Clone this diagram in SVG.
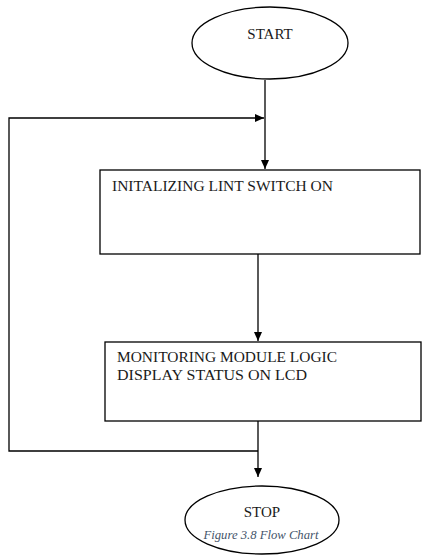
<svg xmlns="http://www.w3.org/2000/svg" width="423" height="555" viewBox="0 0 423 555">
<defs>
<marker id="arr" markerWidth="10" markerHeight="10" refX="9" refY="5" orient="auto" markerUnits="userSpaceOnUse">
<path d="M0,1 L9,5 L0,9 Z" fill="#000"/>
</marker>
<style>
.shape{fill:#fff;stroke:#000;stroke-width:1.3}
.conn{fill:none;stroke:#000;stroke-width:1.3}
.t{font-size:15px;fill:#1a1a1a}
.cap{font-size:12.5px;font-style:italic;fill:#44546A}
</style>
</defs>
<rect width="423" height="555" fill="#fff"/>
<g id="connectors">
<path class="conn" d="M265,80 V169" marker-end="url(#arr)"/>
<path class="conn" d="M258,254 V341" marker-end="url(#arr)"/>
<path class="conn" d="M258,421 V477" marker-end="url(#arr)"/>
<path class="conn" d="M258,451 H9 V118 H264" marker-end="url(#arr)"/>
</g>
<g id="start">
<ellipse class="shape" cx="270" cy="43" rx="78" ry="36"/>
<text class="t" font-family="Liberation Serif, DejaVu Serif, serif" x="270" y="39" text-anchor="middle">START</text>
</g>
<g id="init">
<rect class="shape" x="100" y="170" width="320" height="84"/>
<text class="t" font-family="Liberation Serif, DejaVu Serif, serif" x="112" y="191" textLength="221" lengthAdjust="spacingAndGlyphs">INITALIZING LINT SWITCH ON</text>
</g>
<g id="monitor">
<rect class="shape" x="105" y="342" width="316" height="79"/>
<text class="t" font-family="Liberation Serif, DejaVu Serif, serif" x="117" y="362" textLength="220" lengthAdjust="spacingAndGlyphs">MONITORING MODULE LOGIC</text>
<text class="t" font-family="Liberation Serif, DejaVu Serif, serif" x="117" y="380" textLength="190" lengthAdjust="spacingAndGlyphs">DISPLAY STATUS ON LCD</text>
</g>
<g id="stop">
<ellipse class="shape" cx="262" cy="520" rx="77" ry="34"/>
<text class="t" font-family="Liberation Serif, DejaVu Serif, serif" x="262" y="517" text-anchor="middle">STOP</text>
<text class="cap" font-family="Liberation Serif, DejaVu Serif, serif" x="261" y="539" text-anchor="middle" textLength="115" lengthAdjust="spacingAndGlyphs">Figure 3.8 Flow Chart</text>
</g>
</svg>
